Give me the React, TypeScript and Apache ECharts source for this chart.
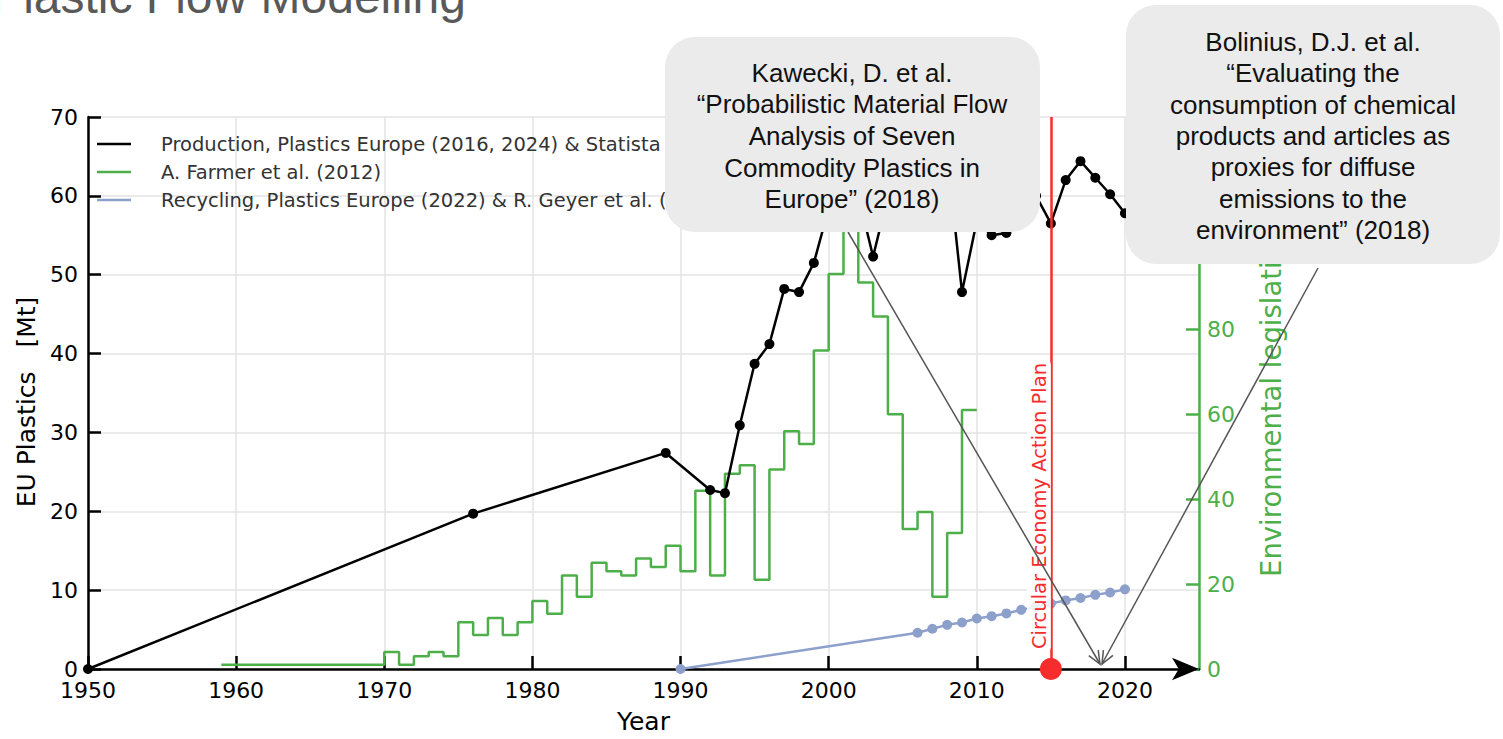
import React, { useEffect, useRef } from 'react';
import * as echarts from 'echarts';

// ---------- data ----------
const productionYears = [1950, 1976, 1989, 1992, 1993, 1994, 1995, 1996, 1997, 1998, 1999, 2000, 2001, 2002, 2003, 2004, 2005, 2006, 2007, 2008, 2009, 2010, 2011, 2012, 2013, 2014, 2015, 2016, 2017, 2018, 2019, 2020];
const productionMt = [0, 19.7, 27.4, 22.7, 22.3, 30.9, 38.7, 41.2, 48.2, 47.8, 51.5, 58.4, 59.0, 60.0, 52.3, 60.0, 62.0, 63.5, 65.0, 65.4, 47.8, 56.8, 55.0, 55.3, 57.8, 60.0, 56.5, 62.0, 64.4, 62.3, 60.2, 57.8];

const farmerYears = [1959, 1970, 1971, 1972, 1973, 1974, 1975, 1976, 1977, 1978, 1979, 1980, 1981, 1982, 1983, 1984, 1985, 1986, 1987, 1988, 1989, 1990, 1991, 1992, 1993, 1994, 1995, 1996, 1997, 1998, 1999, 2000, 2001, 2002, 2003, 2004, 2005, 2006, 2007, 2008, 2009, 2010];
const farmerCounts = [1, 4, 1, 3, 4, 3, 11, 8, 12, 8, 11, 16, 13, 22, 17, 25, 23, 22, 26, 24, 29, 23, 42, 22, 46, 48, 21, 47, 56, 53, 75, 93, 112, 91, 83, 60, 33, 37, 17, 32, 61, 61];

const recyclingYears = [1990, 2006, 2007, 2008, 2009, 2010, 2011, 2012, 2013, 2014, 2015, 2016, 2017, 2018, 2019, 2020];
const recyclingMt = [0, 4.6, 5.1, 5.6, 5.9, 6.4, 6.7, 7.05, 7.5, 7.9, 8.3, 8.7, 9.0, 9.4, 9.7, 10.1];

const policyYear = [2015];
const policyLabel = 'Circular Economy Action Plan';

const seriesNames = [
  'Production, Plastics Europe (2016, 2024) & Statista (2024)',
  'A. Farmer et al. (2012)',
  'Recycling, Plastics Europe (2022) & R. Geyer et al. (2017)',
];

const titleText = 'Plastic Flow Modelling';
const kaweckiLines = ['Kawecki, D. et al.', '\u201cProbabilistic Material Flow', 'Analysis of Seven', 'Commodity Plastics in', 'Europe\u201d (2018)'];
const boliniusLines = ['Bolinius, D.J. et al.', '\u201cEvaluating the', 'consumption of chemical', 'products and articles as', 'proxies for diffuse', 'emissions to the', 'environment\u201d (2018)'];

// ---------- styles ----------
const BLACK = '#000000';
const GREEN = '#4daf4a';
const BLUE = '#8da0cb';
const RED = '#f72c2c';
const GRID = '#e3e3e3';
const MPL = 'DejaVu Sans, Verdana, sans-serif';
const ARIAL = 'Liberation Sans, Arial, sans-serif';

function arrow(x1: number, y1: number, x2: number, y2: number) {
  const th = Math.atan2(y2 - y1, x2 - x1);
  const L = 14, a = 0.4;
  const p1 = [x2 - L * Math.cos(th - a), y2 - L * Math.sin(th - a)];
  const p2 = [x2 - L * Math.cos(th + a), y2 - L * Math.sin(th + a)];
  return [
    { type: 'line', z: 95, shape: { x1, y1, x2, y2 }, style: { stroke: '#555555', lineWidth: 1.5 } },
    { type: 'polyline', z: 95, shape: { points: [p1, [x2, y2], p2] }, style: { stroke: '#555555', lineWidth: 1.5, fill: null } },
  ];
}

export default function App() {
  const ref = useRef<HTMLDivElement>(null);
  useEffect(() => {
    if (!ref.current) return;
    const chart = echarts.init(ref.current, null, { renderer: 'svg' });
    const tickFont = { fontFamily: MPL, fontSize: 22 };
    const option: any = {
      animation: false,
      backgroundColor: '#ffffff',
      grid: { left: 88, top: 117, width: 1111, height: 552, containLabel: false },
      legend: {
        orient: 'vertical',
        left: 97,
        top: 134,
        padding: 0,
        icon: 'rect',
        itemWidth: 34,
        itemHeight: 2.5,
        itemGap: 8,
        data: seriesNames,
        textStyle: { fontFamily: MPL, fontSize: 19.5, color: '#333333', padding: [0, 0, 0, 25] },
        z: 5,
      },
      xAxis: {
        type: 'value',
        min: 1950,
        max: 2025,
        interval: 10,
        name: 'Year',
        nameLocation: 'middle',
        nameGap: 40,
        nameTextStyle: { fontFamily: MPL, fontSize: 25, color: '#000' },
        axisLine: { show: true, onZero: false, symbol: ['none', 'arrow'], symbolSize: [17, 27], symbolOffset: [0, 0], lineStyle: { color: BLACK, width: 2.5 } },
        axisTick: { show: true, inside: true, length: 13, lineStyle: { color: BLACK, width: 2.5 } },
        axisLabel: { ...tickFont, color: '#000', margin: 10, showMaxLabel: false, formatter: (v: number) => String(v) },
        splitLine: { show: true, lineStyle: { color: GRID, width: 1.5 } },
      },
      yAxis: [
        {
          type: 'value',
          min: 0,
          max: 70,
          interval: 10,
          name: 'EU Plastics   [Mt]',
          nameLocation: 'middle',
          nameGap: 46,
          nameRotate: 90,
          nameTextStyle: { fontFamily: MPL, fontSize: 25, color: '#000', padding: [0, 18, 0, 0] },
          axisLine: { show: true, lineStyle: { color: BLACK, width: 2.5 } },
          axisTick: { show: true, inside: true, length: 13, lineStyle: { color: BLACK, width: 2.5 } },
          axisLabel: { ...tickFont, color: '#000', margin: 10 },
          splitLine: { show: true, lineStyle: { color: GRID, width: 1.5 } },
        },
        {
          type: 'value',
          min: 0,
          max: 130,
          interval: 20,
          position: 'right',
          axisLine: { show: true, lineStyle: { color: GREEN, width: 2.5 } },
          axisTick: { show: true, inside: true, length: 13, lineStyle: { color: GREEN, width: 2.5 } },
          axisLabel: { ...tickFont, color: GREEN, margin: 8 },
          splitLine: { show: false },
        },
      ],
      series: [
        {
          name: seriesNames[2],
          type: 'line',
          yAxisIndex: 0,
          data: recyclingYears.map((y, i) => [y, recyclingMt[i]]),
          color: BLUE,
          lineStyle: { width: 2.5, color: BLUE },
          symbol: 'circle',
          symbolSize: 10,
          itemStyle: { color: BLUE },
          z: 2,
        },
        {
          name: seriesNames[1],
          type: 'line',
          yAxisIndex: 1,
          step: 'end',
          data: farmerYears.map((y, i) => [y, farmerCounts[i]]),
          color: GREEN,
          lineStyle: { width: 2.5, color: GREEN },
          showSymbol: false,
          symbol: 'none',
          itemStyle: { color: GREEN },
          z: 3,
        },
        {
          name: seriesNames[0],
          type: 'line',
          yAxisIndex: 0,
          data: productionYears.map((y, i) => [y, productionMt[i]]),
          color: BLACK,
          lineStyle: { width: 2.5, color: BLACK },
          symbol: 'circle',
          symbolSize: 10,
          itemStyle: { color: BLACK },
          z: 4,
        },
        {
          name: 'policy',
          type: 'scatter',
          yAxisIndex: 0,
          data: policyYear.map((y) => [y, 0]),
          symbolSize: 22,
          itemStyle: { color: RED, opacity: 1 },
          z: 6,
          markLine: {
            silent: true,
            symbol: ['none', 'none'],
            label: { show: false },
            lineStyle: { color: RED, width: 2.5, type: 'solid', opacity: 1 },
            data: policyYear.map((y) => ({ xAxis: y })),
          },
        },
      ],
      graphic: [
        {
          type: 'text',
          x: 466,
          y: -4,
          z: 100,
          style: { text: titleText, fill: '#595959', font: `48px ${ARIAL}`, fontSize: 48, fontFamily: ARIAL, textAlign: 'right', align: 'right', textVerticalAlign: 'middle', verticalAlign: 'middle' },
        },
        {
          type: 'text',
          x: 1039,
          y: 652,
          rotation: Math.PI / 2,
          z: 60,
          style: {
            text: policyLabel,
            fill: RED,
            fontSize: 19.5,
            fontFamily: MPL,
            font: `19.5px ${MPL}`,
            textAlign: 'left',
            align: 'left',
            textVerticalAlign: 'middle',
            verticalAlign: 'middle',
            backgroundColor: 'rgba(255,255,255,0.85)',
            padding: [2, 3, 2, 3],
            borderRadius: 5,
          },
        },
        {
          type: 'text',
          x: 1271,
          y: 577,
          rotation: Math.PI / 2,
          z: 60,
          style: { text: 'Environmental legislation', fill: GREEN, fontSize: 27.5, fontFamily: MPL, font: `27.5px ${MPL}`, textAlign: 'left', align: 'left', textVerticalAlign: 'middle', verticalAlign: 'middle' },
        },
        ...arrow(848, 232, 1100, 664),
        ...arrow(1318, 268, 1102, 664),
        { type: 'rect', z: 100, shape: { x: 665, y: 37, width: 375, height: 195, r: 30 }, style: { fill: '#ebebeb' } },
        {
          type: 'text',
          x: 852,
          y: 136,
          z: 101,
          style: { text: kaweckiLines.join('\n'), fill: '#111111', fontSize: 26, fontFamily: ARIAL, font: `26px ${ARIAL}`, lineHeight: 31.7, textAlign: 'center', align: 'center', textVerticalAlign: 'middle', verticalAlign: 'middle' },
        },
        { type: 'rect', z: 100, shape: { x: 1126, y: 5, width: 374, height: 259, r: 30 }, style: { fill: '#ebebeb' } },
        {
          type: 'text',
          x: 1313,
          y: 136,
          z: 101,
          style: { text: boliniusLines.join('\n'), fill: '#111111', fontSize: 26, fontFamily: ARIAL, font: `26px ${ARIAL}`, lineHeight: 31.3, textAlign: 'center', align: 'center', textVerticalAlign: 'middle', verticalAlign: 'middle' },
        },
      ],
    };
    chart.setOption(option);
    return () => chart.dispose();
  }, []);
  return <div ref={ref} style={{ position: 'fixed', left: 0, top: 0, width: '1503px', height: '739px' }} />;
}
